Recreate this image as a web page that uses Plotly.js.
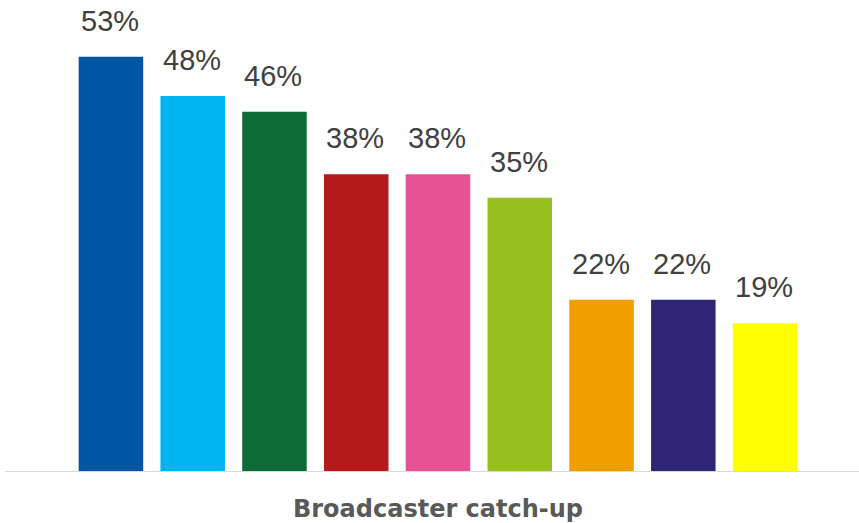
<!DOCTYPE html>
<html>
<head>
<meta charset="utf-8">
<script src="https://cdn.plot.ly/plotly-3.0.1.min.js"></script>
<style>html,body{margin:0;padding:0;background:#fff;}#chart{width:859px;height:523px;}</style>
</head>
<body>
<div id="chart"></div>
<script>
const categories = ["Broadcaster catch-up"];
const seriesNames = ["Service 1","Service 2","Service 3","Service 4","Service 5","Service 6","Service 7","Service 8","Service 9"];
const seriesValues = [53, 48, 46, 38, 38, 35, 22, 22, 19];
const seriesColors = ["#0055A5","#00B5EF","#0C6C35","#B41A1A","#E85295","#97C11F","#F09D00","#2E2675","#FFFF00"];

const W = 859, H = 523;
const margin = {l: 17, r: 0, t: 2, b: 51};
const bargap = 0.126;
const n = seriesValues.length;
const plotW = W - margin.l - margin.r;
const slot = plotW * (1 - bargap) / n;

const traces = seriesValues.map((v, i) => ({
  type: 'bar',
  name: seriesNames[i],
  x: categories,
  y: [v],
  marker: {color: seriesColors[i]},
  hoverinfo: 'name+y'
}));

const annotations = seriesValues.map((v, i) => ({
  x: categories[0], y: v, xref: 'x', yref: 'y',
  text: v + '%',
  showarrow: false,
  xanchor: 'center', yanchor: 'bottom',
  xshift: (i - (n - 1) / 2) * slot - 1,
  yshift: 18,
  font: {family: 'Liberation Sans, Arial, sans-serif', size: 29, color: '#404040'}
}));

const layout = {
  width: W, height: H,
  margin: margin,
  paper_bgcolor: '#ffffff', plot_bgcolor: '#ffffff',
  barmode: 'group',
  bargap: bargap,
  bargroupgap: 0.211,
  showlegend: false,
  xaxis: {
    type: 'category',
    showline: false, showgrid: false, zeroline: false,
    ticks: '', ticklen: 0,
    ticklabelstandoff: 20,
    tickfont: {family: 'DejaVu Sans, Verdana, sans-serif', size: 24, color: '#595959', weight: 'bold'}
  },
  yaxis: {
    range: [0, 60],
    visible: false,
    showgrid: false, zeroline: false
  },
  shapes: [{
    type: 'line', xref: 'paper', yref: 'y',
    x0: -0.0143, x1: 1, y0: 0, y1: 0,
    line: {color: '#d9d9d9', width: 2},
    layer: 'above'
  }],
  annotations: annotations
};

Plotly.newPlot('chart', traces, layout, {displayModeBar: false, staticPlot: true});
</script>
</body>
</html>
